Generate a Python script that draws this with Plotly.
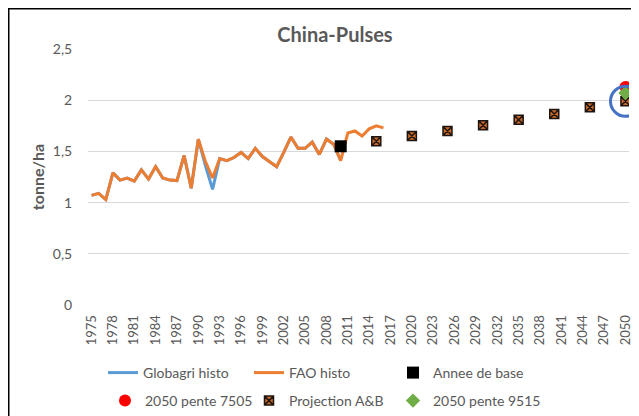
import plotly.graph_objects as go

years = [str(y) for y in range(1975, 2051)]

fao_years = [str(y) for y in range(1975, 2017)]
fao_values = [1.07, 1.09, 1.03, 1.29, 1.22, 1.24, 1.21, 1.32, 1.23, 1.35,
              1.24, 1.22, 1.215, 1.46, 1.14, 1.62, 1.40, 1.24, 1.43, 1.41,
              1.44, 1.49, 1.43, 1.53, 1.45, 1.40, 1.35, 1.49, 1.64, 1.53,
              1.53, 1.59, 1.47, 1.62, 1.57, 1.41, 1.68, 1.70, 1.65, 1.72,
              1.75, 1.73]

globagri_years = [str(y) for y in range(1975, 2011)]
globagri_values = [1.07, 1.09, 1.03, 1.29, 1.22, 1.24, 1.21, 1.32, 1.23, 1.35,
                   1.24, 1.22, 1.215, 1.46, 1.14, 1.62, 1.36, 1.13, 1.43, 1.41,
                   1.44, 1.49, 1.43, 1.53, 1.45, 1.40, 1.35, 1.49, 1.64, 1.53,
                   1.53, 1.59, 1.47, 1.62, 1.57, 1.41]

base_year = ["2010"]
base_value = [1.55]

proj_years = ["2015", "2020", "2025", "2030", "2035", "2040", "2045", "2050"]
proj_values = [1.60, 1.65, 1.70, 1.755, 1.81, 1.865, 1.93, 1.99]

p7505_year = ["2050"]
p7505_value = [2.13]
p9515_year = ["2050"]
p9515_value = [2.07]

tick_labels = [str(y) for y in range(1975, 2051, 3)]

GRAY = "#595959"
FONT = "Lato"

# page body has an 8px margin: figure drawn at (8, 8), size 631x408
W, H = 631, 408
ML, MR, MT, MB = 80, 10, 41, 111
PW, PH = W - ML - MR, H - MT - MB

fig = go.Figure()
fig.add_trace(go.Scatter(x=globagri_years, y=globagri_values, mode="lines",
                         name="Globagri histo", line=dict(color="#5B9BD5", width=3),
                         legend="legend"))
fig.add_trace(go.Scatter(x=fao_years, y=fao_values, mode="lines",
                         name="FAO histo", line=dict(color="#ED7D31", width=3),
                         legend="legend2"))
fig.add_trace(go.Scatter(x=base_year, y=base_value, mode="markers",
                         name="Annee de base",
                         marker=dict(symbol="square", color="black", size=12),
                         legend="legend3"))
fig.add_trace(go.Scatter(x=p7505_year, y=p7505_value, mode="markers",
                         name="2050 pente 7505",
                         marker=dict(symbol="circle", color="#FF0000", size=12),
                         legend="legend4"))
fig.add_trace(go.Scatter(x=proj_years, y=proj_values, mode="markers",
                         name="Projection A&B",
                         marker=dict(symbol="square-x", color="#C8692A", size=9,
                                     line=dict(color="#1E1410", width=1.5)),
                         legend="legend5"))
fig.add_trace(go.Scatter(x=p9515_year, y=p9515_value, mode="markers",
                         name="2050 pente 9515",
                         marker=dict(symbol="diamond", color="#70AD47", size=11),
                         legend="legend6"))

# highlight circle around the 2050 point
cx = years.index(proj_years[-1])
cy = proj_values[-1]
fig.add_shape(type="circle", xref="x", yref="y",
              x0=cx - 2.1, x1=cx + 2.1, y0=cy - 0.147, y1=cy + 0.147,
              line=dict(color="#4472C4", width=3))

# sheet borders (screenshot frame) along the figure's top and left edges
left_edge = -ML / PW
top_edge = 1 + MT / PH
bottom_edge = -MB / PH
fig.add_shape(type="line", xref="paper", yref="paper",
              x0=left_edge, x1=1 + MR / PW, y0=top_edge, y1=top_edge,
              line=dict(color="black", width=3))
fig.add_shape(type="line", xref="paper", yref="paper",
              x0=left_edge, x1=left_edge, y0=top_edge, y1=bottom_edge,
              line=dict(color="black", width=3))

legend_common = dict(orientation="h", xanchor="left", yanchor="middle",
                     xref="container", yref="container",
                     font=dict(family=FONT, size=14, color=GRAY),
                     bgcolor="rgba(0,0,0,0)", itemclick=False)

row1_y = 1 - 365 / H
row2_y = 1 - 393 / H
col_x = [95 / W, 241 / W, 385 / W]
row2_x = [97 / W, 241 / W, 385 / W]

fig.update_layout(
    width=W, height=H,
    margin=dict(l=ML, r=MR, t=MT, b=MB, autoexpand=False),
    paper_bgcolor="white", plot_bgcolor="white",
    separators=",.",
    font=dict(family=FONT, color=GRAY),
    title=dict(text="<b>China-Pulses</b>", x=327 / W, xanchor="center",
               xref="container", yref="container",
               y=1 - 27 / H, yanchor="middle",
               font=dict(family=FONT, size=20, color=GRAY)),
    showlegend=True,
    legend=dict(x=col_x[0], y=row1_y, **legend_common),
    legend2=dict(x=col_x[1], y=row1_y, **legend_common),
    legend3=dict(x=col_x[2], y=row1_y, **legend_common),
    legend4=dict(x=row2_x[0], y=row2_y, **legend_common),
    legend5=dict(x=row2_x[1], y=row2_y, **legend_common),
    legend6=dict(x=row2_x[2], y=row2_y, **legend_common),
    xaxis=dict(type="category", categoryorder="array", categoryarray=years,
               range=[-0.5, len(years) - 0.5], automargin=False,
               tickmode="array", tickvals=tick_labels, ticktext=tick_labels,
               tickangle=-90, tickfont=dict(family=FONT, size=13, color=GRAY),
               showgrid=False, showline=False, zeroline=False,
               ticks="outside", ticklen=4, tickcolor="rgba(0,0,0,0)"),
    yaxis=dict(range=[0, 2.5], dtick=0.5, tick0=0, automargin=False,
               showgrid=True, gridcolor="#D9D9D9", gridwidth=1,
               zeroline=False, showline=False,
               tickfont=dict(family=FONT, size=14, color=GRAY),
               ticks="outside", ticklen=12, tickcolor="rgba(0,0,0,0)",
               title=dict(text="<b>tonne/ha</b>", standoff=4,
                          font=dict(family=FONT, size=16, color=GRAY))),
)

fig.write_html("out.html")
